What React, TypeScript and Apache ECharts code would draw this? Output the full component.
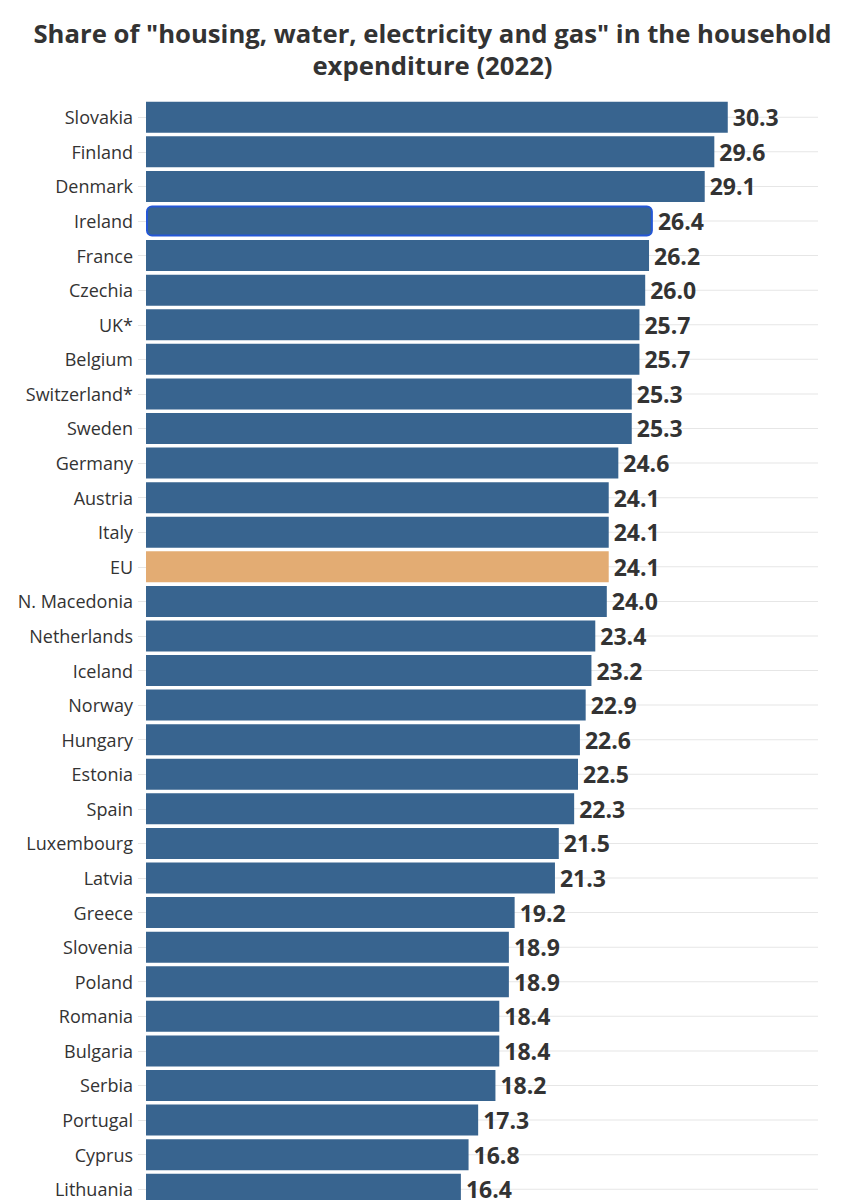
import React, { useEffect, useRef } from "react";
import * as echarts from "echarts";

const countries = [
  "Slovakia", "Finland", "Denmark", "Ireland", "France", "Czechia", "UK*", "Belgium",
  "Switzerland*", "Sweden", "Germany", "Austria", "Italy", "EU", "N. Macedonia", "Netherlands",
  "Iceland", "Norway", "Hungary", "Estonia", "Spain", "Luxembourg", "Latvia", "Greece",
  "Slovenia", "Poland", "Romania", "Bulgaria", "Serbia", "Portugal", "Cyprus", "Lithuania",
];
const values = [
  30.3, 29.6, 29.1, 26.4, 26.2, 26.0, 25.7, 25.7,
  25.3, 25.3, 24.6, 24.1, 24.1, 24.1, 24.0, 23.4,
  23.2, 22.9, 22.6, 22.5, 22.3, 21.5, 21.3, 19.2,
  18.9, 18.9, 18.4, 18.4, 18.2, 17.3, 16.8, 16.4,
];
const titleText = 'Share of "housing, water, electricity and gas" in the household\nexpenditure (2022)';
const highlightEU = "EU";
const highlightOutline = "Ireland";
const xMax = 35;

export default function App() {
  const ref = useRef<HTMLDivElement>(null);
  useEffect(() => {
    document.body.style.margin = "0";
    const chart = echarts.init(ref.current!, null, { renderer: "svg" });
    const font = "'Open Sans', sans-serif";
    const barData = values.map((v, i) => {
      const name = countries[i];
      if (name === highlightEU) {
        return { value: v, itemStyle: { color: "#e3ac73" } };
      }
      if (name === highlightOutline) {
        return {
          value: v,
          itemStyle: { color: "#38648f", borderColor: "#2457d6", borderWidth: 2, borderRadius: 5 },
        };
      }
      return v;
    });
    chart.setOption({
      animation: false,
      backgroundColor: "#ffffff",
      title: {
        text: titleText,
        left: "center",
        top: 12,
        textStyle: {
          fontFamily: font,
          fontSize: 25.7,
          fontWeight: "bold",
          color: "#333333",
          lineHeight: 32,
        },
      },
      grid: { left: 146, right: 47, top: 100, height: 1106.5, containLabel: false },
      xAxis: { type: "value", min: 0, max: xMax, show: false },
      yAxis: [
        {
          type: "category",
          data: countries,
          inverse: true,
          axisLine: { show: false },
          axisTick: { show: true, alignWithLabel: true, length: 8, lineStyle: { color: "#e6e6e6" } },
          axisLabel: { fontFamily: font, fontSize: 18, color: "#333333", margin: 13 },
          splitLine: { show: false },
        },
        {
          type: "category",
          data: countries,
          inverse: true,
          show: false,
        },
      ],
      series: [
        {
          type: "bar",
          yAxisIndex: 1,
          data: countries.map(() => xMax),
          barWidth: 1,
          itemStyle: { color: "#e6e6e6" },
          silent: true,
          z: 1,
        },
        {
          type: "bar",
          yAxisIndex: 0,
          data: barData,
          barWidth: 31,
          itemStyle: { color: "#38648f" },
          z: 2,
          label: {
            show: true,
            position: "right",
            distance: 5,
            fontFamily: font,
            fontSize: 23,
            fontWeight: "bold",
            color: "#333333",
            formatter: (p: any) => Number(p.value).toFixed(1),
          },
        },
      ],
    });
    return () => chart.dispose();
  }, []);
  return <div ref={ref} style={{ width: 865, height: 1240 }} />;
}
